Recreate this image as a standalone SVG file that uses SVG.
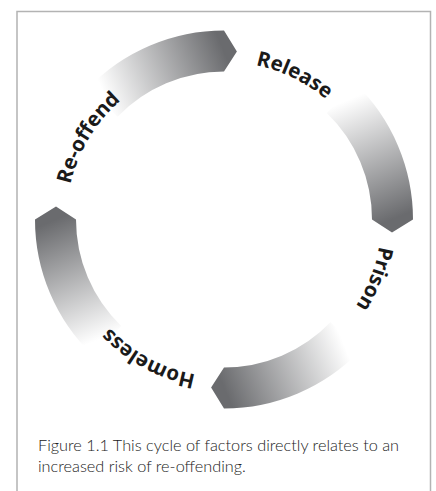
<svg xmlns="http://www.w3.org/2000/svg" xmlns:xlink="http://www.w3.org/1999/xlink" width="436" height="491" viewBox="0 0 436 491">
<style>
.frame{fill:none;stroke:#b3b3b3;stroke-width:1.5}
.lbl{font-family:"Noto Sans","Open Sans",sans-serif;font-weight:bold;font-size:20.5px;fill:#1a1a1a}
.cap{font-family:Lato,"Liberation Sans",sans-serif;font-weight:300;font-size:16.3px;fill:#222222}
</style>
<defs>
<linearGradient id="g" gradientUnits="userSpaceOnUse" x1="343" y1="102" x2="392" y2="219.5">
<stop offset="0" stop-color="#ffffff"/>
<stop offset="1" stop-color="#6a6b6e"/>
</linearGradient>
<path id="seg" fill="url(#g)" d="M326.81,113.04 L355.29,83.54 A189,189 0 0 1 413,219.5 L392,232.4 L372,219.5 A148,148 0 0 0 326.81,113.04 Z"/>
<path id="ring" d="M381.5,219.5 A157.5,157.5 0 1 1 66.5,219.5 A157.5,157.5 0 1 1 381.5,219.5"/>
</defs>
<rect width="436" height="491" fill="#ffffff"/>
<path class="frame" d="M17,491 V11.5 H430.5 V491"/>
<g id="connectors">
<use xlink:href="#seg"/>
<use xlink:href="#seg" transform="rotate(90 224 219.5)"/>
<use xlink:href="#seg" transform="rotate(180 224 219.5)"/>
<use xlink:href="#seg" transform="rotate(270 224 219.5)"/>
</g>
<g id="release"><text class="lbl" text-anchor="middle"><textPath xlink:href="#ring" startOffset="813.6">Release</textPath></text></g>
<g id="prison"><text class="lbl" text-anchor="middle"><textPath xlink:href="#ring" startOffset="59.1">Prison</textPath></text></g>
<g id="homeless"><text class="lbl" text-anchor="middle"><textPath xlink:href="#ring" startOffset="325.7">Homeless</textPath></text></g>
<g id="reoffend"><text class="lbl" text-anchor="middle"><textPath xlink:href="#ring" startOffset="580">Re-offend</textPath></text></g>
<g id="caption">
<text class="cap" x="38" y="451">Figure 1.1 This cycle of factors directly relates to an</text>
<text class="cap" x="38" y="472">increased risk of re-offending.</text>
</g>
</svg>
